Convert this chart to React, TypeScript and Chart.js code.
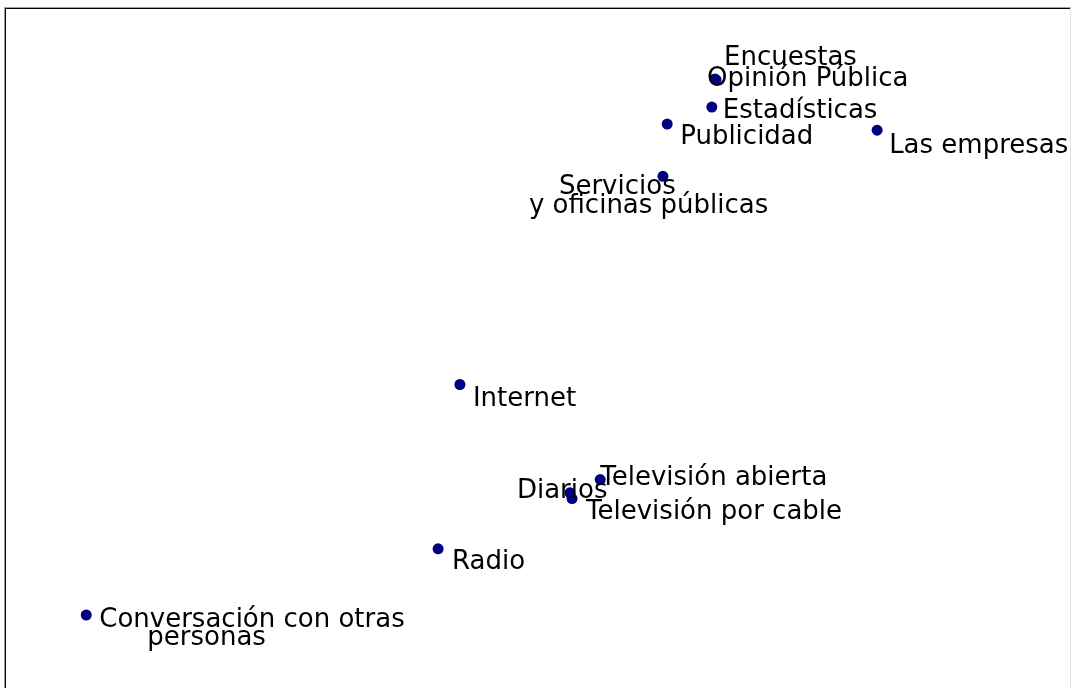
import React, { useEffect, useRef } from "react";
import { Chart, registerables } from "chart.js";

Chart.register(...registerables);

// Category names (each entry may have several lines)
const categories: string[][] = [
  ["Encuestas"],
  ["Opinión Pública"],
  ["Estadísticas"],
  ["Publicidad"],
  ["Las empresas"],
  ["Servicios", "y oficinas públicas"],
  ["Internet"],
  ["Televisión abierta"],
  ["Diarios"],
  ["Televisión por cable"],
  ["Radio"],
  ["Conversación con otras", "personas"],
];

// Coordinates on the two dimensions
const dim1: number[] = [0.334, 0.336, 0.328, 0.244, 0.639, 0.236, -0.146, 0.118, 0.061, 0.065, -0.187, -0.849];
const dim2: number[] = [0.794, 0.791, 0.711, 0.661, 0.643, 0.507, -0.106, -0.386, -0.425, -0.442, -0.59, -0.785];

// Label placement (pixel offsets of each line's left/baseline from its point)
const labelOffsets: [number, number][][] = [
  [[9, -14]],
  [[-9, 6]],
  [[11, 11]],
  [[13, 20]],
  [[12, 23]],
  [[-104, 18], [-134, 37]],
  [[13, 22]],
  [[0, 5]],
  [[-53, 5]],
  [[14, 20]],
  [[14, 20]],
  [[13, 12], [61, 30]],
];

const labelPlugin = {
  id: "pointLabels",
  afterDatasetsDraw(chart: any) {
    const ctx = chart.ctx;
    const meta = chart.getDatasetMeta(0);
    ctx.save();
    ctx.font = "26px 'DejaVu Sans'";
    ctx.fillStyle = "#000000";
    ctx.textAlign = "left";
    ctx.textBaseline = "alphabetic";
    meta.data.forEach((el: any, i: number) => {
      const lines = categories[i];
      lines.forEach((line, j) => {
        const off = labelOffsets[i][j];
        ctx.fillText(line, el.x + off[0], el.y + off[1]);
      });
    });
    ctx.restore();
  },
};

export default function App() {
  const ref = useRef<HTMLCanvasElement | null>(null);

  useEffect(() => {
    if (!ref.current) return;
    const chart = new Chart(ref.current, {
      type: "scatter",
      data: {
        datasets: [
          {
            data: dim1.map((x, i) => ({ x, y: dim2[i] })),
            backgroundColor: "#000080",
            borderColor: "#000080",
            pointRadius: 5.5,
            pointBorderWidth: 0,
          },
        ],
      },
      options: {
        animation: false,
        responsive: false,
        maintainAspectRatio: false,
        layout: { padding: 0, autoPadding: false },
        plugins: {
          legend: { display: false },
          tooltip: { enabled: false },
        },
        scales: {
          x: { type: "linear", min: -1, max: 1, display: false },
          y: { type: "linear", min: -1, max: 1, display: false },
        },
      },
      plugins: [labelPlugin],
    });
    return () => chart.destroy();
  }, []);

  return (
    <div
      style={{
        position: "fixed",
        left: 4,
        top: 7,
        width: 1067,
        height: 681,
        boxSizing: "border-box",
        borderTop: "1px solid #a0a0a0",
        borderLeft: "1px solid #a0a0a0",
        borderRight: "1px solid #e3e3e3",
        background: "#ffffff",
      }}
    >
      <div
        style={{
          position: "absolute",
          left: 0,
          top: 0,
          right: 0,
          bottom: 0,
          borderTop: "1px solid #000000",
          borderLeft: "1px solid #000000",
        }}
      >
        <canvas ref={ref} width={1063} height={679} style={{ display: "block" }} />
      </div>
    </div>
  );
}
